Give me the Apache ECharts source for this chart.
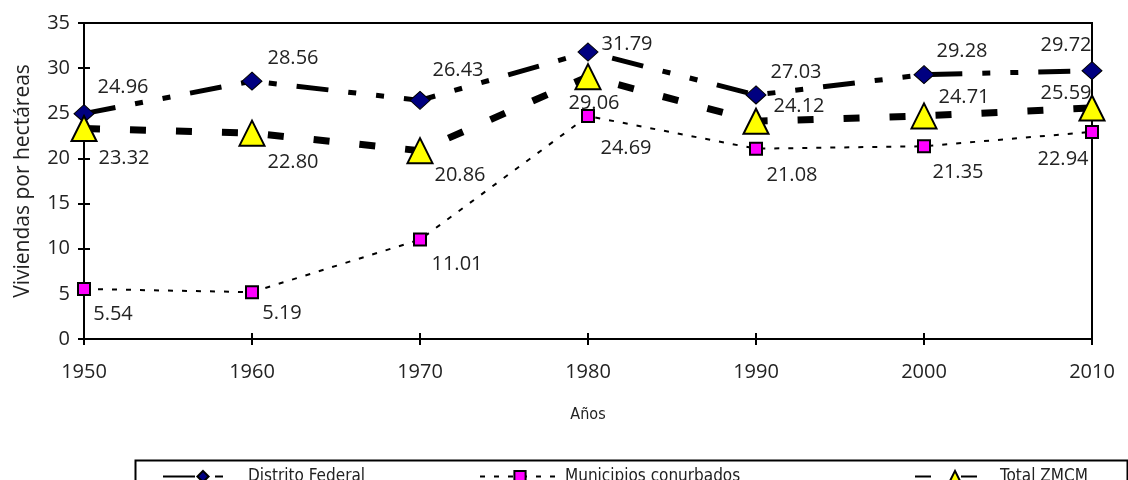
<!DOCTYPE html>
<html>
<head>
<meta charset="utf-8">
<script src="https://cdn.jsdelivr.net/npm/echarts@6/dist/echarts.min.js"></script>
<style>
html,body{margin:0;padding:0;background:#fff;}
#chart{width:1128px;height:480px;}
</style>
</head>
<body>
<div id="chart"></div>
<script>
const years = ['1950', '1960', '1970', '1980', '1990', '2000', '2010'];
const distritoFederal = [24.96, 28.56, 26.43, 31.79, 27.03, 29.28, 29.72];
const municipios = [5.54, 5.19, 11.01, 24.69, 21.08, 21.35, 22.94];
const totalZMCM = [23.32, 22.80, 20.86, 29.06, 24.12, 24.71, 25.59];
const seriesNames = ['Distrito Federal', 'Municipios conurbados', 'Total ZMCM'];
const yAxisName = 'Viviendas por hectáreas';
const xAxisName = 'Años';

// label offsets (style only)
const offDF = [[39,-26],[41,-23],[38,-30],[39,-8],[40,-23],[38,-23],[-26,-25]];
const offMun = [[29,25],[30,21],[37,25],[38,32],[36,27],[34,26],[-29,27]];
const offTot = [[40,30],[41,29],[40,25],[6,27],[43,-15],[40,-19],[-26,-15]];

const FONT = 'Open Sans';
const NARROW = "'DejaVu Sans Condensed', 'Open Sans'";
const TXT = '#222';

function mk(vals, offs) {
  return vals.map((v, i) => ({
    value: v,
    label: { offset: offs[i] }
  }));
}
const lbl = {
  show: true, position: 'inside', color: TXT, fontFamily: FONT, fontSize: 20,
  formatter: p => p.value.toFixed(2)
};

const chart = echarts.init(document.getElementById('chart'), null, {renderer: 'canvas'});
const legendBase = {
  top: 463, itemWidth: 80, itemHeight: 14, itemGap: 10,
  textStyle: {color: TXT, fontFamily: NARROW, fontSize: 17},
  selectedMode: false
};
chart.setOption({
  animation: false,
  backgroundColor: '#fff',
  grid: {left: 84, right: 36, top: 23, bottom: 141, show: true, borderColor: '#000', borderWidth: 2, backgroundColor: 'transparent'},
  legend: [
    Object.assign({}, legendBase, {left: 157, data: [seriesNames[0]]}),
    Object.assign({}, legendBase, {left: 474, data: [seriesNames[1]]}),
    Object.assign({}, legendBase, {left: 909, data: [seriesNames[2]]})
  ],
  graphic: [{
    type: 'rect', left: 133, top: 458, shape: {width: 992, height: 40},
    style: {fill: 'none', stroke: '#000', lineWidth: 2}, z: -1
  }],
  xAxis: [{
    type: 'category', data: years, boundaryGap: false,
    name: xAxisName, nameLocation: 'middle', nameGap: 68,
    nameTextStyle: {color: TXT, fontFamily: NARROW, fontSize: 16},
    axisLine: {lineStyle: {color: '#000', width: 2}},
    axisTick: {show: true, inside: false, length: 6, lineStyle: {color: '#000', width: 2}},
    axisLabel: {color: TXT, fontFamily: FONT, fontSize: 20, margin: 23},
    splitLine: {show: false}
  }, {
    type: 'category', data: years, boundaryGap: false, position: 'bottom',
    axisLine: {show: false},
    axisTick: {show: true, inside: true, length: 6, lineStyle: {color: '#000', width: 2}},
    axisLabel: {show: false}, splitLine: {show: false}
  }],
  yAxis: [{
    type: 'value', min: 0, max: 35, interval: 5,
    name: yAxisName, nameLocation: 'middle', nameGap: 50, nameRotate: 90,
    nameTextStyle: {color: TXT, fontFamily: FONT, fontSize: 21},
    axisLine: {show: true, lineStyle: {color: '#000', width: 2}},
    axisTick: {show: true, inside: false, length: 6, lineStyle: {color: '#000', width: 2}},
    axisLabel: {color: TXT, fontFamily: FONT, fontSize: 20, margin: 14},
    splitLine: {show: false}
  }, {
    type: 'value', min: 0, max: 35, interval: 5, position: 'left',
    axisLine: {show: false},
    axisTick: {show: true, inside: true, length: 6, lineStyle: {color: '#000', width: 2}},
    axisLabel: {show: false}, splitLine: {show: false}
  }],
  series: [{
    name: seriesNames[0], type: 'line', data: mk(distritoFederal, offDF),
    symbol: 'diamond', symbolSize: [20, 18],
    itemStyle: {color: '#000080', borderColor: '#000', borderWidth: 1},
    lineStyle: {color: '#000', width: 5, type: [32, 20, 8, 20, 8, 20]},
    label: lbl, z: 2
  }, {
    name: seriesNames[1], type: 'line', data: mk(municipios, offMun),
    symbol: 'rect', symbolSize: 12,
    itemStyle: {color: '#FF00FF', borderColor: '#000', borderWidth: 2},
    lineStyle: {color: '#000', width: 2, type: [5, 9]},
    label: lbl, z: 3
  }, {
    name: seriesNames[2], type: 'line', data: mk(totalZMCM, offTot),
    symbol: 'triangle', symbolSize: [25, 25],
    itemStyle: {color: '#FFFF00', borderColor: '#000', borderWidth: 2},
    lineStyle: {color: '#000', width: 7, type: [16, 30]},
    label: lbl, z: 4
  }]
});
</script>
</body>
</html>
